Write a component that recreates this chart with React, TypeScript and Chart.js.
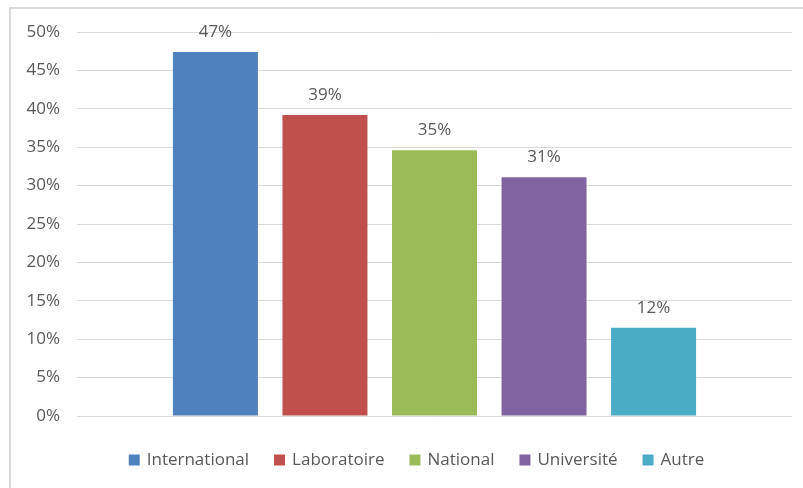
import React, { useEffect, useRef } from "react";
import { Chart, registerables } from "chart.js";

Chart.register(...registerables);

const categories = [""];
const seriesNames = ["International", "Laboratoire", "National", "Université", "Autre"];
const seriesValues = [47.4, 39.2, 34.6, 31.1, 11.5];
const seriesLabels = ["47%", "39%", "35%", "31%", "12%"];
const seriesColors = ["#4F81BD", "#C0504D", "#9BBB59", "#8064A2", "#4BACC6"];
const yTicks = [0, 5, 10, 15, 20, 25, 30, 35, 40, 45, 50];

const FONT = "'Open Sans', sans-serif";
const TEXT = "#595959";
const FS = 17;

const framePlugin = {
  id: "frame",
  beforeDraw(chart: any) {
    const ctx = chart.ctx;
    ctx.save();
    ctx.fillStyle = "#ffffff";
    ctx.fillRect(0, 0, chart.width, chart.height);
    ctx.strokeStyle = "#d9d9d9";
    ctx.lineWidth = 2;
    ctx.beginPath();
    ctx.moveTo(10, chart.height + 2);
    ctx.lineTo(10, 8);
    ctx.lineTo(chart.width + 2, 8);
    ctx.stroke();
    ctx.restore();
  },
};

const labelPlugin = {
  id: "barLabels",
  afterDatasetsDraw(chart: any) {
    const ctx = chart.ctx;
    ctx.save();
    ctx.font = `${FS}px ${FONT}`;
    ctx.fillStyle = TEXT;
    ctx.textAlign = "center";
    ctx.textBaseline = "middle";
    chart.data.datasets.forEach((ds: any, i: number) => {
      const meta = chart.getDatasetMeta(i);
      meta.data.forEach((bar: any) => {
        ctx.fillText(seriesLabels[i], bar.x, bar.y - 20);
      });
    });
    ctx.restore();
  },
};

const legendPlugin = {
  id: "customLegend",
  afterDraw(chart: any) {
    const ctx = chart.ctx;
    ctx.save();
    ctx.font = `${FS}px ${FONT}`;
    ctx.textBaseline = "middle";
    ctx.textAlign = "left";
    const box = 11;
    const gap = 7;
    const itemGap = 25;
    const ds = chart.data.datasets;
    const widths = ds.map((d: any) => box + gap + ctx.measureText(d.label).width);
    const total = widths.reduce((a: number, b: number) => a + b, 0) + itemGap * (ds.length - 1);
    const cx = (chart.chartArea.left + chart.chartArea.right) / 2 - 18;
    let x = cx - total / 2;
    const y = 460;
    ds.forEach((d: any, i: number) => {
      ctx.fillStyle = d.backgroundColor;
      ctx.fillRect(x, y - box / 2, box, box);
      ctx.fillStyle = TEXT;
      ctx.fillText(d.label, x + box + gap, y);
      x += widths[i] + itemGap;
    });
    ctx.restore();
  },
};

export default function App() {
  const ref = useRef<HTMLCanvasElement>(null);
  useEffect(() => {
    document.body.style.margin = "0";
    const chart = new Chart(ref.current!, {
      type: "bar",
      data: {
        labels: categories,
        datasets: seriesNames.map((name, i) => ({
          label: name,
          data: [seriesValues[i]],
          backgroundColor: seriesColors[i],
          borderWidth: 0,
          barPercentage: 0.776,
          categoryPercentage: 0.766,
        })),
      },
      options: {
        animation: false,
        responsive: false,
        layout: { padding: { left: 10, right: 11, top: 32, bottom: 72 } },
        plugins: {
          tooltip: { enabled: false },
          legend: { display: false },
        },
        scales: {
          x: {
            display: false,
          },
          y: {
            min: 0,
            max: 50,
            afterBuildTicks: (s: any) => {
              s.ticks = yTicks.map((v) => ({ value: v }));
            },
            grid: { color: "#d9d9d9", drawTicks: false },
            border: { display: false },
            ticks: {
              padding: 17,
              color: TEXT,
              font: { family: FONT, size: FS },
              callback: (v: any) => v + "%",
            },
            afterFit: (s: any) => {
              s.width = 67;
            },
          },
        },
      },
      plugins: [framePlugin, labelPlugin, legendPlugin],
    });
    return () => chart.destroy();
  }, []);
  return (
    <div style={{ position: "absolute", left: 0, top: 0, width: 803, height: 488 }}>
      <canvas ref={ref} width={803} height={488} style={{ width: 803, height: 488 }} />
    </div>
  );
}
